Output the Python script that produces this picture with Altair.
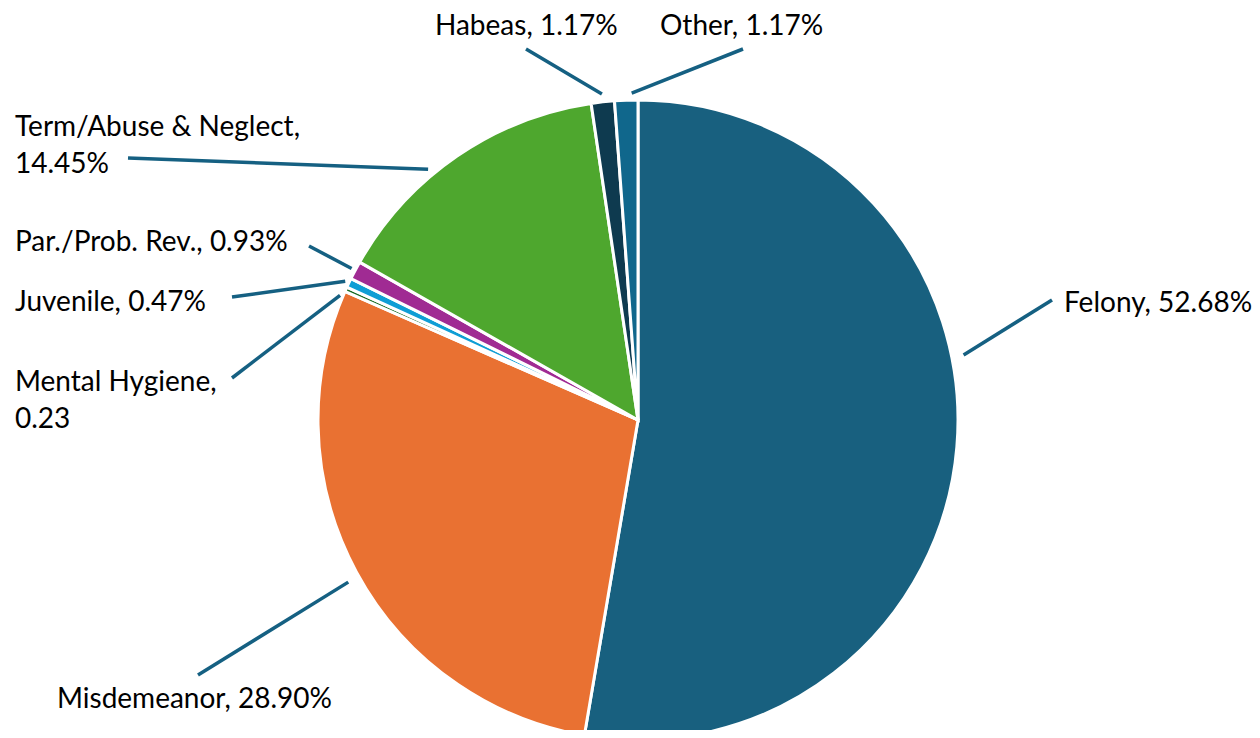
import altair as alt
import pandas as pd

# ---- data ----
categories = ["Felony", "Misdemeanor", "Mental Hygiene", "Juvenile",
              "Par./Prob. Rev.", "Term/Abuse & Neglect", "Habeas", "Other"]
shares = [52.68, 28.90, 0.23, 0.47, 0.93, 14.45, 1.17, 1.17]
label_texts = ["Felony, 52.68%", "Misdemeanor, 28.90%", "Mental Hygiene,\n0.23",
               "Juvenile, 0.47%", "Par./Prob. Rev., 0.93%",
               "Term/Abuse & Neglect,\n14.45%", "Habeas, 1.17%", "Other, 1.17%"]

# ---- style ----
colors = ["#18607F", "#E97132", "#196B24", "#0F9ED5", "#A02B93",
          "#4EA72E", "#0E3A4F", "#10678C"]
LINE_COLOR = "#156082"
FONT = "Lato"
FONT_SIZE = 28

# ---- layout (page pixel coordinates) ----
CX, CY, R = 638, 420, 320
label_x = [1064, 57, 15, 15, 15, 15, 435, 660]
label_y = [304, 700, 383, 303, 243, 128, 27, 27]
line_end_x = [1052, 198, 232, 232, 309, 128, 526, 743]
line_end_y = [300, 675, 378, 297, 246, 158, 49, 49]
anchor_shift = [-16.1, -0.9, -1.4, 0.0, 0.0, -5.5, 0.0, 1.0]
anchor_gap = [12, 12, 3, 4, 4, 7, 8, 7]

df = pd.DataFrame({
    "category": categories,
    "share": shares,
    "label": label_texts,
    "order": list(range(len(categories))),
    "lx": label_x,
    "ly": label_y,
    "ex": line_end_x,
    "ey": line_end_y,
    "shift": anchor_shift,
    "gap": anchor_gap,
})

W, H = 1244, 722
xs = alt.Scale(domain=[8, 8 + W], nice=False, zero=False)
ys = alt.Scale(domain=[8, 8 + H], nice=False, zero=False, reverse=True)

base = alt.Chart(df)

pie = base.mark_arc(outerRadius=R, stroke="white", strokeWidth=3).encode(
    theta=alt.Theta("share:Q", stack=True),
    order=alt.Order("order:Q"),
    color=alt.Color("category:N", scale=alt.Scale(domain=categories, range=colors), legend=None),
    x=alt.value(CX - 8),
    y=alt.value(CY - 8),
)

leaders = base.transform_window(
    cum="sum(share)", sort=[alt.SortField("order")], frame=[None, 0]
).transform_calculate(
    ang="((datum.cum - datum.share / 2) / 100) * 2 * PI + datum.shift * PI / 180",
).transform_calculate(
    sx=f"{CX} + ({R} + datum.gap) * sin(datum.ang)",
    sy=f"{CY} - ({R} + datum.gap) * cos(datum.ang)",
).mark_rule(color=LINE_COLOR, strokeWidth=3.5).encode(
    x=alt.X("sx:Q", scale=xs, axis=None),
    y=alt.Y("sy:Q", scale=ys, axis=None),
    x2="ex:Q",
    y2="ey:Q",
)

labels = base.mark_text(
    align="left", baseline="middle", font=FONT, fontSize=FONT_SIZE,
    color="#000000", lineBreak="\n", lineHeight=37,
).encode(
    x=alt.X("lx:Q", scale=xs, axis=None),
    y=alt.Y("ly:Q", scale=ys, axis=None),
    text="label:N",
)

chart = alt.layer(pie, leaders, labels).properties(
    width=W, height=H, padding=0, background="white",
    autosize=alt.AutoSizeParams(type="none"),
).configure_view(strokeWidth=0, stroke="transparent")

chart.save("out.html", embed_options={"renderer": "svg", "actions": False})
